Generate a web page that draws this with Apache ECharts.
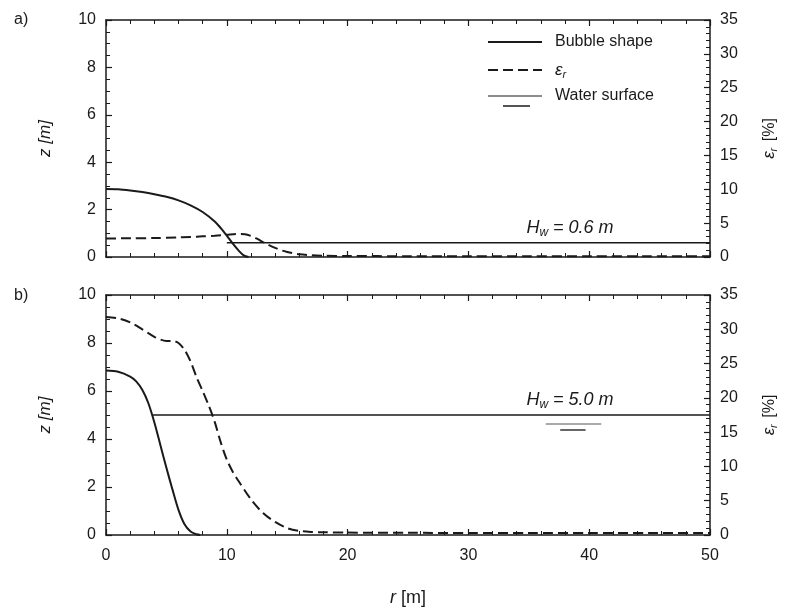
<!DOCTYPE html>
<html>
<head>
<meta charset="utf-8">
<script src="https://cdn.jsdelivr.net/npm/echarts@6/dist/echarts.min.js"></script>
<style>html,body{margin:0;padding:0;background:#fff}#c{width:787px;height:612px}</style>
</head>
<body>
<div id="c"></div>
<script>
// ---- Data ----
// Panel a) H_w = 0.6 m
const aBubbleR = [0, 1, 2, 3, 4, 5, 6, 7, 8, 9, 9.5, 10, 10.5, 11, 11.4, 11.8];
const aBubbleZ = [2.87, 2.86, 2.81, 2.74, 2.65, 2.54, 2.39, 2.18, 1.9, 1.5, 1.22, 0.9, 0.56, 0.26, 0.07, 0];
const aEpsR = [0, 2, 4, 6, 7, 8, 9, 10, 10.8, 11.5, 12, 12.5, 13, 13.5, 14, 14.5, 15, 15.5, 16, 17, 18, 20, 25, 30, 35, 40, 45, 50];
const aEps  = [2.74, 2.76, 2.8, 2.9, 2.95, 3.05, 3.15, 3.28, 3.4, 3.35, 3.1, 2.7, 2.2, 1.75, 1.35, 1.0, 0.75, 0.55, 0.4, 0.25, 0.18, 0.15, 0.12, 0.12, 0.1, 0.1, 0.1, 0.1];
const aWaterR = [10, 50];
const aWaterZ = [0.6, 0.6];
// Panel b) H_w = 5.0 m
const bBubbleR = [0, 1, 2, 2.5, 3, 3.5, 4, 4.5, 5, 5.5, 6, 6.5, 7, 7.5, 7.8];
const bBubbleZ = [6.85, 6.8, 6.6, 6.4, 6.05, 5.5, 4.7, 3.75, 2.8, 1.9, 1.05, 0.45, 0.15, 0.03, 0];
const bEpsR = [0, 1, 2, 3, 4, 4.5, 5, 5.5, 6, 6.5, 7, 7.5, 8, 8.5, 9, 9.5, 10, 10.5, 11, 12, 13, 14, 15, 16, 17, 18, 20, 25, 30, 35, 40, 45, 50];
const bEps  = [31.8, 31.6, 31.0, 30.0, 28.9, 28.5, 28.3, 28.3, 28.0, 27.0, 25.3, 23.0, 21.0, 18.9, 16.5, 13.5, 11.0, 9.2, 7.8, 5.2, 3.2, 1.9, 1.0, 0.6, 0.45, 0.4, 0.35, 0.32, 0.3, 0.3, 0.3, 0.3, 0.3];
const bWaterR = [3.8, 50];
const bWaterZ = [5.0, 5.0];
// Axes ticks
const rTicks = {min: 0, max: 50, interval: 10};
const zTicks = {min: 0, max: 10, interval: 2};
const epsTicks = {min: 0, max: 35, interval: 5};
const waterLabels = ['0.6', '5.0'];

const pair = (xs, ys) => xs.map((x, i) => [x, ys[i]]);
const FONT = 'Liberation Sans, Arial, sans-serif';
const INK = '#1a1a1a';

function xAx(grid, pos, showLabel) {
  return {
    type: 'value', gridIndex: grid, position: pos, ...rTicks,
    axisLine: {show: true, onZero: false, lineStyle: {color: INK, width: 1.5}},
    axisTick: {show: true, inside: true, length: 6, lineStyle: {color: INK, width: 1.2}},
    minorTick: {show: true, splitNumber: 5, length: 4, lineStyle: {color: INK, width: 1}},
    splitLine: {show: false},
    axisLabel: {show: showLabel, color: INK, fontSize: 16, fontFamily: FONT, margin: 13},
    name: (showLabel ? '{i|r} [m]' : ''), nameLocation: 'middle', nameGap: 54,
    nameTextStyle: {color: INK, fontSize: 18, fontFamily: FONT, rich: {i: {fontStyle: 'italic', fontSize: 18, fontFamily: FONT, color: INK}}}
  };
}
function zAx(grid) {
  return {
    type: 'value', gridIndex: grid, position: 'left', ...zTicks,
    axisLine: {show: true, onZero: false, lineStyle: {color: INK, width: 1.5}},
    axisTick: {show: true, inside: true, length: 6, lineStyle: {color: INK, width: 1.2}},
    minorTick: {show: true, splitNumber: 4, length: 4, lineStyle: {color: INK, width: 1}},
    splitLine: {show: false},
    axisLabel: {color: INK, fontSize: 16, fontFamily: FONT, margin: 10},
    name: 'z [m]', nameLocation: 'middle', nameGap: 52, nameRotate: 90,
    nameTextStyle: {color: INK, fontSize: 17, fontStyle: 'italic', fontFamily: FONT}
  };
}
function eAx(grid) {
  return {
    type: 'value', gridIndex: grid, position: 'right', ...epsTicks,
    axisLine: {show: true, onZero: false, lineStyle: {color: INK, width: 1.5}},
    axisTick: {show: true, inside: true, length: 6, lineStyle: {color: INK, width: 1.2}},
    minorTick: {show: true, splitNumber: 5, length: 4, lineStyle: {color: INK, width: 1}},
    splitLine: {show: false},
    axisLabel: {color: INK, fontSize: 16, fontFamily: FONT, margin: 10},
    name: '{e|ε}{s|r} [%]', nameLocation: 'middle', nameGap: 50, nameRotate: 90,
    nameTextStyle: {color: INK, fontSize: 16, fontFamily: FONT,
      rich: {e: {fontStyle: 'italic', fontSize: 17, fontFamily: FONT, color: INK},
             s: {fontStyle: 'italic', fontSize: 11, fontFamily: FONT, color: INK, padding: [8, 2, 0, 0]}}}
  };
}

const solid = {color: INK, width: 2};
const dashed = {color: INK, width: 2, type: [10, 5]};
const thin = {color: INK, width: 1.5};

const option = {
  animation: false,
  backgroundColor: '#fff',
  textStyle: {fontFamily: FONT},
  grid: [
    {left: 106, right: 75, top: 20, height: 237},
    {left: 106, right: 75, top: 295, height: 240}
  ],
  xAxis: [xAx(0, 'bottom', false), xAx(0, 'top', false), xAx(1, 'bottom', true), xAx(1, 'top', false)],
  yAxis: [zAx(0), eAx(0), zAx(1), eAx(1)],
  series: [
    {type: 'line', xAxisIndex: 0, yAxisIndex: 0, data: pair(aBubbleR, aBubbleZ), showSymbol: false, smooth: 0.3, lineStyle: solid},
    {type: 'line', xAxisIndex: 0, yAxisIndex: 1, data: pair(aEpsR, aEps), showSymbol: false, smooth: 0.3, lineStyle: dashed},
    {type: 'line', xAxisIndex: 0, yAxisIndex: 0, data: pair(aWaterR, aWaterZ), showSymbol: false, lineStyle: thin},
    {type: 'line', xAxisIndex: 2, yAxisIndex: 2, data: pair(bBubbleR, bBubbleZ), showSymbol: false, smooth: 0.3, lineStyle: solid},
    {type: 'line', xAxisIndex: 2, yAxisIndex: 3, data: pair(bEpsR, bEps), showSymbol: false, smooth: 0.3, lineStyle: dashed},
    {type: 'line', xAxisIndex: 2, yAxisIndex: 2, data: pair(bWaterR, bWaterZ), showSymbol: false, lineStyle: thin}
  ]
};

const chart = echarts.init(document.getElementById('c'), null, {renderer: 'canvas'});
chart.setOption(option);

// ---- annotations ----
const g = [];
const txt = (x, y, text, extra) => Object.assign({type: 'text', x, y, style: Object.assign({text, fill: INK, font: '16px ' + FONT}, extra || {})});
g.push(txt(14, 20, 'a)', {verticalAlign: 'middle'}));
g.push(txt(14, 296, 'b)', {verticalAlign: 'middle'}));
// legend
const lx1 = 488, lx2 = 542, tx = 555;
g.push({type: 'line', shape: {x1: lx1, y1: 42, x2: lx2, y2: 42}, style: {stroke: INK, lineWidth: 2}});
g.push(txt(tx, 42, 'Bubble shape', {verticalAlign: 'middle'}));
g.push({type: 'line', shape: {x1: lx1, y1: 70, x2: lx2, y2: 70}, style: {stroke: INK, lineWidth: 2, lineDash: [10, 5]}});
g.push({type: 'text', x: tx, y: 70, style: {text: '{e|ε}{s|r}', verticalAlign: 'middle', fill: INK,
  rich: {e: {fontStyle: 'italic', fontSize: 17, fontFamily: FONT, fill: INK}, s: {fontStyle: 'italic', fontSize: 11, fontFamily: FONT, fill: INK, padding: [10, 0, 0, 0]}}}});
g.push({type: 'line', shape: {x1: lx1, y1: 96, x2: lx2, y2: 96}, style: {stroke: INK, lineWidth: 1}});
g.push({type: 'line', shape: {x1: 503, y1: 106, x2: 530, y2: 106}, style: {stroke: INK, lineWidth: 1.5}});
g.push(txt(tx, 96, 'Water surface', {verticalAlign: 'middle'}));
// H_w labels
[[0, aWaterZ[0], waterLabels[0]], [2, bWaterZ[0], waterLabels[1]]].forEach(([xi, z, lab]) => {
  const p = chart.convertToPixel({xAxisIndex: xi, yAxisIndex: xi}, [34.8, z]);
  g.push({type: 'text', x: p[0], y: p[1] - 15, style: {text: '{h|H}{w|w}{h| = ' + lab + ' m}', verticalAlign: 'middle', fill: INK,
    rich: {h: {fontStyle: 'italic', fontSize: 18, fontFamily: FONT, fill: INK}, w: {fontStyle: 'italic', fontSize: 12, fontFamily: FONT, fill: INK, padding: [10, 0, 0, 0]}}}});
});
// water surface symbol in panel b
const s1a = chart.convertToPixel({xAxisIndex: 2, yAxisIndex: 2}, [36.4, bWaterZ[0]]);
const s1b = chart.convertToPixel({xAxisIndex: 2, yAxisIndex: 2}, [41.0, bWaterZ[0]]);
const s2a = chart.convertToPixel({xAxisIndex: 2, yAxisIndex: 2}, [37.6, bWaterZ[0]]);
const s2b = chart.convertToPixel({xAxisIndex: 2, yAxisIndex: 2}, [39.7, bWaterZ[0]]);
g.push({type: 'line', shape: {x1: s1a[0], y1: s1a[1] + 9, x2: s1b[0], y2: s1b[1] + 9}, style: {stroke: '#555', lineWidth: 1}});
g.push({type: 'line', shape: {x1: s2a[0], y1: s2a[1] + 15, x2: s2b[0], y2: s2b[1] + 15}, style: {stroke: '#333', lineWidth: 1.5}});
chart.setOption({graphic: g});
</script>
</body>
</html>
